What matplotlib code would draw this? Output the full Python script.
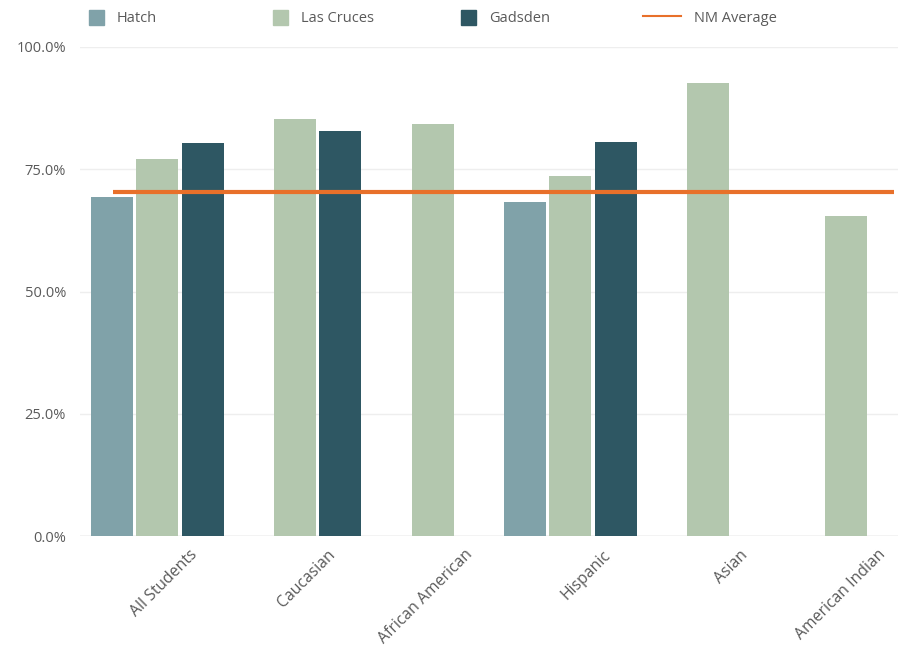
import numpy as np
import matplotlib
matplotlib.use('Agg')
from matplotlib import pyplot as plt
from matplotlib.patches import Patch
from matplotlib.lines import Line2D
import matplotlib.transforms as mtransforms

plt.rcParams['font.family'] = ['Open Sans', 'DejaVu Sans']

categories = ['All Students', 'Caucasian', 'African American', 'Hispanic', 'Asian', 'American Indian']
hatch = [69.3, np.nan, np.nan, 68.4, np.nan, np.nan]
las_cruces = [77.0, 85.2, 84.2, 73.6, 92.6, 65.4]
gadsden = [80.3, 82.8, np.nan, 80.5, np.nan, np.nan]
nm_average = 70.3

series = [('Hatch', hatch, '#80a2a9'), ('Las Cruces', las_cruces, '#b3c7ae'), ('Gadsden', gadsden, '#2e5763')]
line_color = '#e8702a'
text_color = '#5a5a5a'

fig = plt.figure(figsize=(8.98, 6.51), dpi=100)
ax = fig.add_axes([80 / 898, 1 - 536 / 651, 818 / 898, (536 - 47) / 651])

x = np.arange(len(categories))
w = 0.305
step = 0.33
for i, (name, vals, col) in enumerate(series):
    ax.bar(x + (i - 1) * step, vals, width=w, color=col, zorder=2)

ax.hlines(nm_average, -0.32, 5.35, color=line_color, linewidth=3, zorder=3)

ax.set_xlim(-0.56, 5.38)
ax.set_ylim(0, 100)
ax.set_yticks([0, 25, 50, 75, 100])
ax.set_yticklabels(['0.0%', '25.0%', '50.0%', '75.0%', '100.0%'])
ax.yaxis.grid(True, color='#eeeeee', linewidth=1, zorder=0)
ax.axhline(0, color='#cccccc', linewidth=1, zorder=1)
for s in ax.spines.values():
    s.set_visible(False)
ax.tick_params(axis='both', length=0, labelsize=10.5, colors=text_color)
ax.tick_params(axis='y', pad=10)

ax.set_xticks(x)
ax.set_xticklabels(categories, rotation=45, ha='right', rotation_mode='anchor', fontsize=11.3)
offset = mtransforms.ScaledTranslation(0.32, -0.06, fig.dpi_scale_trans)
for lbl in ax.get_xticklabels():
    lbl.set_transform(lbl.get_transform() + offset)

handles = [Patch(color=c) for _, _, c in series] + [Line2D([], [], color=line_color, linewidth=1.5)]
labels = [s[0] for s in series] + ['NM Average']
xs = [76, 260, 448, 630]
for h, l, px in zip(handles, labels, xs):
    leg = fig.legend([h], [l], loc='center left', bbox_to_anchor=(px / 898, 1 - 18 / 651),
                     frameon=False, fontsize=10.5, handlelength=1.0 if l != 'NM Average' else 2.6,
                     handleheight=1.2, handletextpad=0.9)
    for t in leg.get_texts():
        t.set_color(text_color)

fig.savefig('out.png', dpi=100)
